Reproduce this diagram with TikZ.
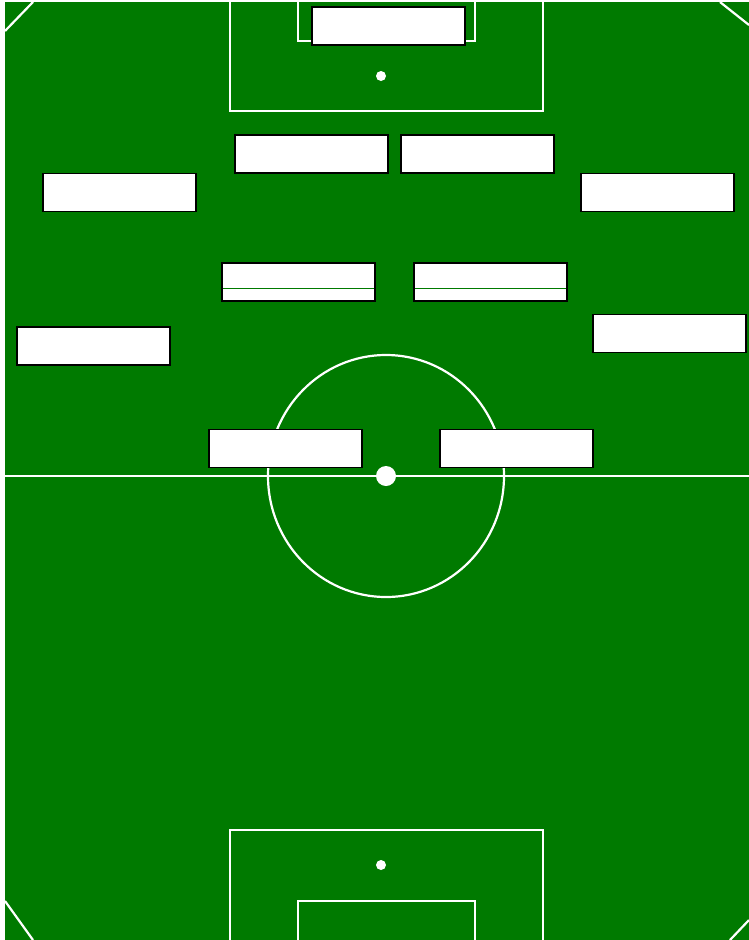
\documentclass[tikz,border=0pt]{standalone}
\definecolor{pitch}{HTML}{007A00}
\begin{document}
\begin{tikzpicture}[x=1pt,y=-1pt,
  mark line/.style={draw=white,line width=2.2pt},
  player/.style={draw=black,fill=white,line width=1.8pt,minimum width=153pt,minimum height=38pt,inner sep=0pt,outer sep=0pt},
  split line/.style={draw=pitch,line width=1pt}]
\useasboundingbox (0,0) rectangle (749,940);
\fill[white] (0,0) rectangle (749,940);
\fill[pitch] (5,2) rectangle (749,940);
% corner marks
\draw[mark line] (5,31) -- (33,2);
\draw[mark line] (720,2) -- (749,25);
\draw[mark line] (5,901) -- (33,940);
\draw[mark line] (730,940) -- (749,920);
% top penalty area
\draw[mark line] (230,0) -- (230,111) -- (543,111) -- (543,0);
\draw[mark line] (298,0) -- (298,41) -- (475,41) -- (475,0);
\fill[white] (381,76) circle (5);
% bottom penalty area
\draw[mark line] (230,940) -- (230,830) -- (543,830) -- (543,940);
\draw[mark line] (298,940) -- (298,901) -- (475,901) -- (475,940);
\fill[white] (381,865) circle (5);
% halfway line and centre circle
\draw[mark line] (5,476) -- (749,476);
\draw[mark line] (386,476) ellipse [x radius=118, y radius=121];
\fill[white] (386,476) circle (10);
% players
\node[player] (gk) at (388.5,26) {};
\node[player] (cbl) at (311.5,154) {};
\node[player] (cbr) at (477.5,154) {};
\node[player] (lb) at (119.5,192.5) {};
\node[player] (rb) at (657.5,192.5) {};
\node[player] (cml) at (298.5,282) {};
\node[player] (cmr) at (490.5,282) {};
\node[player] (lm) at (93.5,346) {};
\node[player] (rm) at (669.5,333.5) {};
\node[player] (stl) at (285.5,448.5) {};
\node[player] (str) at (516.5,448.5) {};
\draw[split line] ([yshift=13pt,xshift=1pt]cml.south west) -- ([yshift=13pt,xshift=-1pt]cml.south east);
\draw[split line] ([yshift=13pt,xshift=1pt]cmr.south west) -- ([yshift=13pt,xshift=-1pt]cmr.south east);
\end{tikzpicture}
\end{document}
